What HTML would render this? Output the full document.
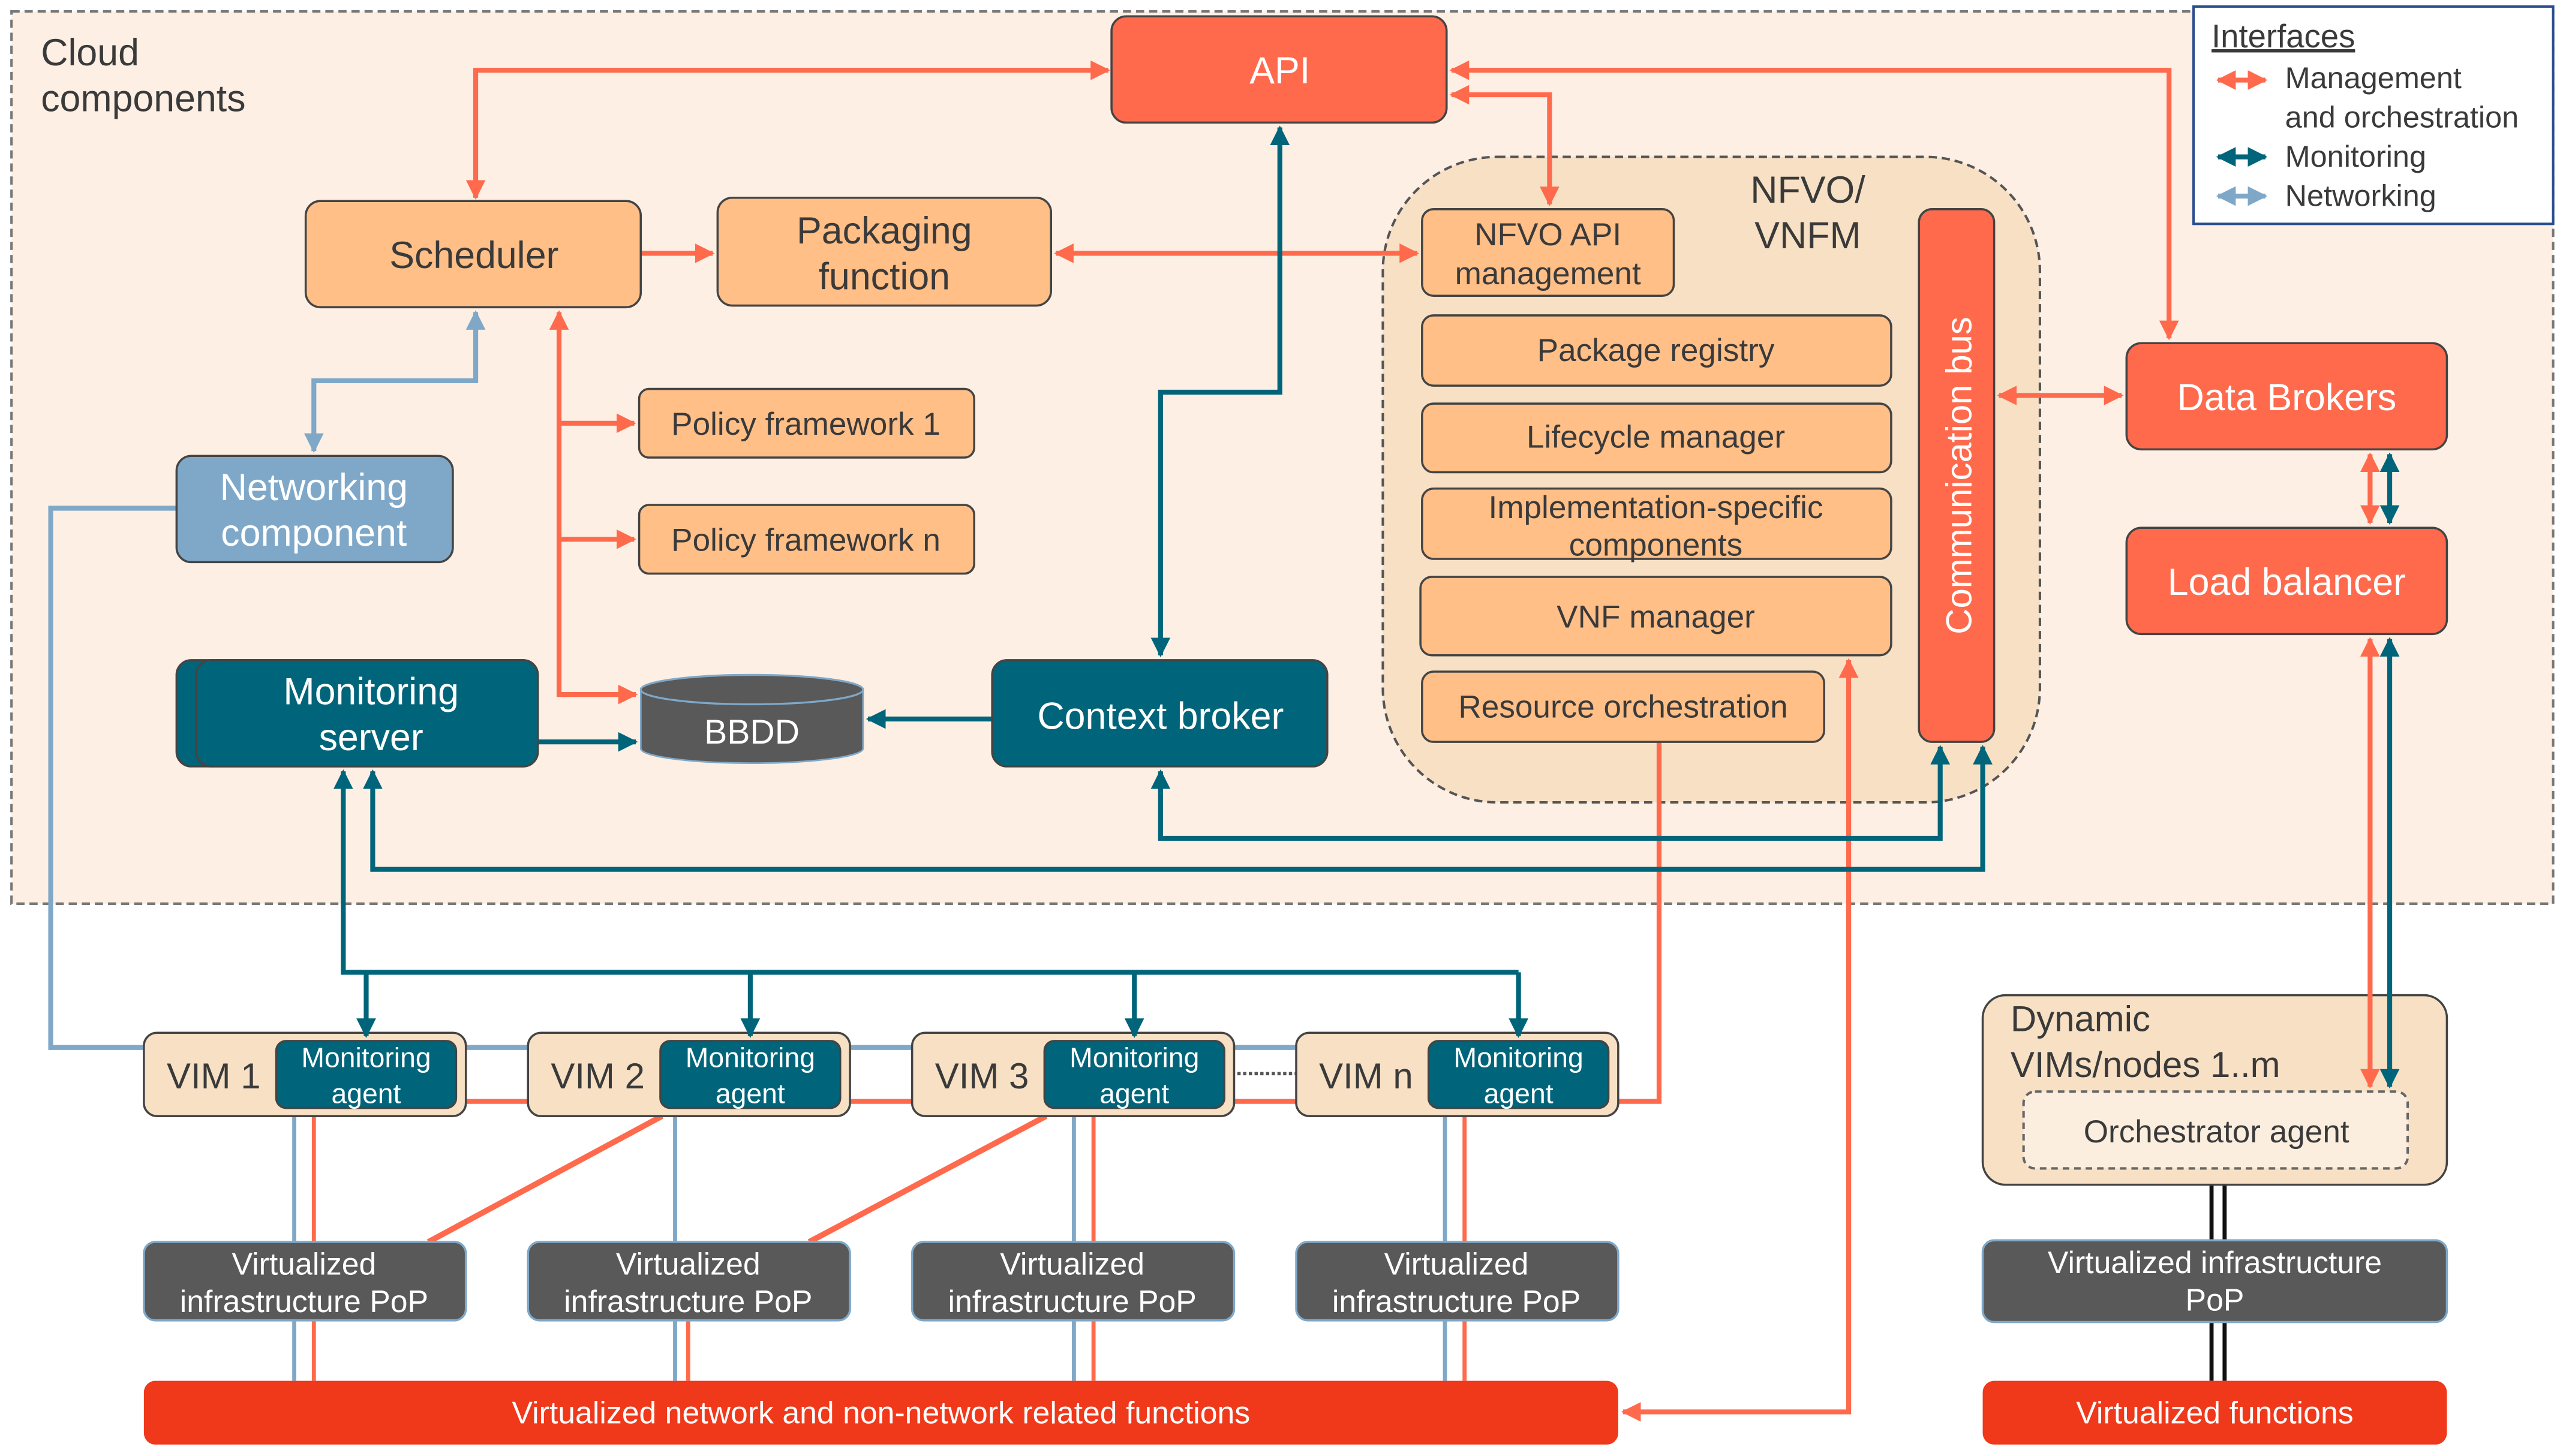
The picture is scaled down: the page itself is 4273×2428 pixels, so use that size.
<!DOCTYPE html>
<html><head><meta charset="utf-8"><style>html,body{margin:0;padding:0;background:#fff}svg{display:block}text{font-family:"Liberation Sans",sans-serif}</style></head>
<body>
<svg width="4273" height="2428" viewBox="0 0 1568 891" xmlns="http://www.w3.org/2000/svg">
<defs>
<marker id="r" viewBox="0 0 10 10" refX="9" refY="5" markerWidth="4" markerHeight="4" orient="auto-start-reverse" markerUnits="strokeWidth"><path d="M0,0L10,5L0,10z" fill="#ff6a4d"/></marker>
<marker id="t" viewBox="0 0 10 10" refX="9" refY="5" markerWidth="4" markerHeight="4" orient="auto-start-reverse" markerUnits="strokeWidth"><path d="M0,0L10,5L0,10z" fill="#00657a"/></marker>
<marker id="b" viewBox="0 0 10 10" refX="9" refY="5" markerWidth="4" markerHeight="4" orient="auto-start-reverse" markerUnits="strokeWidth"><path d="M0,0L10,5L0,10z" fill="#7fa8c8"/></marker>
</defs>
<rect x="7" y="7" width="1555" height="546" fill="#fdefe4" stroke="#777" stroke-width="1.5" stroke-dasharray="5,3"/>
<text x="25" y="40" font-size="23" fill="#3a3a3a">Cloud</text>
<text x="25" y="68" font-size="23" fill="#3a3a3a">components</text>
<rect x="846" y="96" width="402" height="395" rx="70" fill="#f7e0c4" stroke="#555" stroke-width="1.5" stroke-dasharray="5,3"/>
<text x="1106" y="124" font-size="23" fill="#3a3a3a" text-anchor="middle">NFVO/</text>
<text x="1106" y="152" font-size="23" fill="#3a3a3a" text-anchor="middle">VNFM</text>

<g fill="none" stroke-width="3">
<path d="M678,43H291V121" stroke="#ff6a4d" marker-start="url(#r)" marker-end="url(#r)"/>
<path d="M392,155H436" stroke="#ff6a4d" marker-end="url(#r)"/>
<path d="M646,155H867" stroke="#ff6a4d" marker-start="url(#r)" marker-end="url(#r)"/>
<path d="M888,58H948V125" stroke="#ff6a4d" marker-start="url(#r)" marker-end="url(#r)"/>
<path d="M888,43H1327V207" stroke="#ff6a4d" marker-start="url(#r)" marker-end="url(#r)"/>
<path d="M342,191V425H389" stroke="#ff6a4d" marker-start="url(#r)" marker-end="url(#r)"/>
<path d="M342,259H388" stroke="#ff6a4d" marker-end="url(#r)"/>
<path d="M342,330H388" stroke="#ff6a4d" marker-end="url(#r)"/>
<path d="M1223,242H1298" stroke="#ff6a4d" marker-start="url(#r)" marker-end="url(#r)"/>
<path d="M1450,278V320" stroke="#ff6a4d" marker-start="url(#r)" marker-end="url(#r)"/>
<path d="M1015,454V674H285" stroke="#ff6a4d"/>
<path d="M1131,404V864H993" stroke="#ff6a4d" marker-start="url(#r)" marker-end="url(#r)"/>
<path d="M783,78V240H710V401" stroke="#00657a" marker-start="url(#t)" marker-end="url(#t)"/>
<path d="M329,454H389" stroke="#00657a" marker-end="url(#t)"/>
<path d="M607,440H531" stroke="#00657a" marker-end="url(#t)"/>
<path d="M710,472V513H1187V457" stroke="#00657a" marker-start="url(#t)" marker-end="url(#t)"/>
<path d="M228,472V532H1213V457" stroke="#00657a" marker-start="url(#t)" marker-end="url(#t)"/>
<path d="M210,472V595H929" stroke="#00657a" marker-start="url(#t)"/>
<path d="M1462,278V320" stroke="#00657a" marker-start="url(#t)" marker-end="url(#t)"/>
<path d="M291,191V233H192V276" stroke="#7fa8c8" marker-start="url(#b)" marker-end="url(#b)"/>
<path d="M108,311H31V641H800" stroke="#7fa8c8"/>
<path d="M180,683V845M413,683V845M657,683V845M884,683V845" stroke="#7fa8c8" stroke-width="2.5"/>
<path d="M192,683V845M421,808V845M669,683V845M896,683V845" stroke="#ff6a4d" stroke-width="2.5"/>
<path d="M405,683L262,760M640,683L495,760" stroke="#ff6a4d" stroke-width="3.5"/>
<path d="M1353,725V759M1361,725V759M1353,809V845M1361,809V845" stroke="#111" stroke-width="2.5"/>
<path d="M757,657H793" stroke="#555" stroke-width="2" stroke-dasharray="2,1.5"/>
</g>

<g stroke="#444" stroke-width="1.3">
<rect x="680" y="10" width="205" height="65" rx="9" fill="#ff6a4d"/>
<rect x="187" y="123" width="205" height="65" rx="9" fill="#ffbf87"/>
<rect x="439" y="121" width="204" height="66" rx="9" fill="#ffbf87"/>
<rect x="391" y="238" width="205" height="42" rx="6" fill="#ffbf87"/>
<rect x="391" y="309" width="205" height="42" rx="6" fill="#ffbf87"/>
<rect x="108" y="279" width="169" height="65" rx="9" fill="#7fa8c8"/>
<rect x="108" y="404" width="221" height="65" rx="9" fill="#00657a"/>
<rect x="120" y="404" width="209" height="65" rx="9" fill="#00657a"/>
<rect x="607" y="404" width="205" height="65" rx="9" fill="#00657a"/>
<rect x="870" y="128" width="154" height="53" rx="7" fill="#ffbf87"/>
<rect x="870" y="193" width="287" height="43" rx="7" fill="#ffbf87"/>
<rect x="870" y="247" width="287" height="42" rx="7" fill="#ffbf87"/>
<rect x="870" y="299" width="287" height="43" rx="7" fill="#ffbf87"/>
<rect x="869" y="353" width="288" height="48" rx="7" fill="#ffbf87"/>
<rect x="870" y="411" width="246" height="43" rx="7" fill="#ffbf87"/>
<rect x="1174" y="128" width="46" height="326" rx="8" fill="#ff6a4d"/>
<rect x="1301" y="210" width="196" height="65" rx="9" fill="#ff6a4d"/>
<rect x="1301" y="323" width="196" height="65" rx="9" fill="#ff6a4d"/>
<rect x="1213" y="609" width="284" height="116" rx="14" fill="#f7e0c4"/>
</g>
<rect x="1238" y="668" width="235" height="47" rx="7" fill="#fbeede" stroke="#666" stroke-width="1.5" stroke-dasharray="4,3"/>
<g fill="none" stroke-width="3">
<path d="M1450,391V665" stroke="#ff6a4d" marker-start="url(#r)" marker-end="url(#r)"/>
<path d="M1462,391V665" stroke="#00657a" marker-start="url(#t)" marker-end="url(#t)"/>
</g>
<path d="M392,422V458A68,9 0 0 0 528,458V422" fill="#595959" stroke="#7fa8c8" stroke-width="1"/>
<ellipse cx="460" cy="422" rx="68" ry="9" fill="#595959" stroke="#7fa8c8" stroke-width="1.2"/>
<rect x="1342" y="4" width="220" height="133" fill="#fff" stroke="#2a4d8f" stroke-width="1.5"/>
<text x="1353" y="29" font-size="20" fill="#3a3a3a" text-decoration="underline">Interfaces</text>
<g stroke-width="3" fill="none">
<path d="M1357,49H1386" stroke="#ff6a4d" marker-start="url(#r)" marker-end="url(#r)"/>
<path d="M1357,96H1386" stroke="#00657a" marker-start="url(#t)" marker-end="url(#t)"/>
<path d="M1357,120H1386" stroke="#7fa8c8" marker-start="url(#b)" marker-end="url(#b)"/>
</g>
<g font-size="18.5" fill="#3a3a3a">
<text x="1398" y="54">Management</text><text x="1398" y="78">and orchestration</text>
<text x="1398" y="102">Monitoring</text><text x="1398" y="126">Networking</text>
</g>

<g stroke="#444" stroke-width="1.3">
<rect x="88" y="632" width="197" height="51" rx="8" fill="#f7e0c4"/>
<rect x="323" y="632" width="197" height="51" rx="8" fill="#f7e0c4"/>
<rect x="558" y="632" width="197" height="51" rx="8" fill="#f7e0c4"/>
<rect x="793" y="632" width="197" height="51" rx="8" fill="#f7e0c4"/>
<rect x="169" y="637" width="110" height="41" rx="6" fill="#00657a"/>
<rect x="404" y="637" width="110" height="41" rx="6" fill="#00657a"/>
<rect x="639" y="637" width="110" height="41" rx="6" fill="#00657a"/>
<rect x="874" y="637" width="110" height="41" rx="6" fill="#00657a"/>
</g>
<g stroke="#00657a" stroke-width="3" fill="none">
<path d="M224,595V634" marker-end="url(#t)"/>
<path d="M459,595V634" marker-end="url(#t)"/>
<path d="M694,595V634" marker-end="url(#t)"/>
<path d="M929,595V634" marker-end="url(#t)"/>
</g>
<g stroke="#7fa8c8" stroke-width="1.3" fill="#595959">
<rect x="88" y="760" width="197" height="48" rx="7"/>
<rect x="323" y="760" width="197" height="48" rx="7"/>
<rect x="558" y="760" width="197" height="48" rx="7"/>
<rect x="793" y="760" width="197" height="48" rx="7"/>
<rect x="1213" y="759" width="284" height="50" rx="7"/>
</g>
<rect x="88" y="845" width="902" height="39" rx="7" fill="#f0381a"/>
<rect x="1213" y="845" width="284" height="39" rx="7" fill="#f0381a"/>

<g font-size="23" text-anchor="middle" fill="#fff">
<text x="783" y="51">API</text>
<text x="192" y="306">Networking</text><text x="192" y="334">component</text>
<text x="227" y="431">Monitoring</text><text x="227" y="459">server</text>
<text x="460" y="455" font-size="21">BBDD</text>
<text x="710" y="446">Context broker</text>
<text x="1399" y="251">Data Brokers</text>
<text x="1399" y="364">Load balancer</text>
<text transform="translate(1206,291) rotate(-90)" font-size="22">Communication bus</text>
</g>
<g font-size="23" text-anchor="middle" fill="#3a3a3a">
<text x="290" y="164">Scheduler</text>
<text x="541" y="149">Packaging</text><text x="541" y="177">function</text>
</g>
<g font-size="19.5" text-anchor="middle" fill="#3a3a3a">
<text x="493" y="266">Policy framework 1</text>
<text x="493" y="337">Policy framework n</text>
<text x="947" y="150">NFVO API</text><text x="947" y="174">management</text>
<text x="1013" y="221">Package registry</text>
<text x="1013" y="274">Lifecycle manager</text>
<text x="1013" y="317">Implementation-specific</text><text x="1013" y="340">components</text>
<text x="1013" y="384">VNF manager</text>
<text x="993" y="439">Resource orchestration</text>
<text x="1356" y="699">Orchestrator agent</text>
</g>
<g font-size="22" fill="#3a3a3a">
<text x="1230" y="631">Dynamic</text><text x="1230" y="659">VIMs/nodes 1..m</text>
<text x="102" y="666">VIM 1</text><text x="337" y="666">VIM 2</text><text x="572" y="666">VIM 3</text><text x="807" y="666">VIM n</text>
</g>
<g font-size="17" text-anchor="middle" fill="#fff">
<text x="224" y="653">Monitoring</text><text x="224" y="675">agent</text>
<text x="459" y="653">Monitoring</text><text x="459" y="675">agent</text>
<text x="694" y="653">Monitoring</text><text x="694" y="675">agent</text>
<text x="929" y="653">Monitoring</text><text x="929" y="675">agent</text>
</g>
<g font-size="19" text-anchor="middle" fill="#fff">
<text x="186" y="780">Virtualized</text><text x="186" y="803">infrastructure PoP</text>
<text x="421" y="780">Virtualized</text><text x="421" y="803">infrastructure PoP</text>
<text x="656" y="780">Virtualized</text><text x="656" y="803">infrastructure PoP</text>
<text x="891" y="780">Virtualized</text><text x="891" y="803">infrastructure PoP</text>
<text x="1355" y="779">Virtualized infrastructure</text><text x="1355" y="802">PoP</text>
<text x="539" y="871">Virtualized network and non-network related functions</text>
<text x="1355" y="871">Virtualized functions</text>
</g>
</svg>
</body></html>
